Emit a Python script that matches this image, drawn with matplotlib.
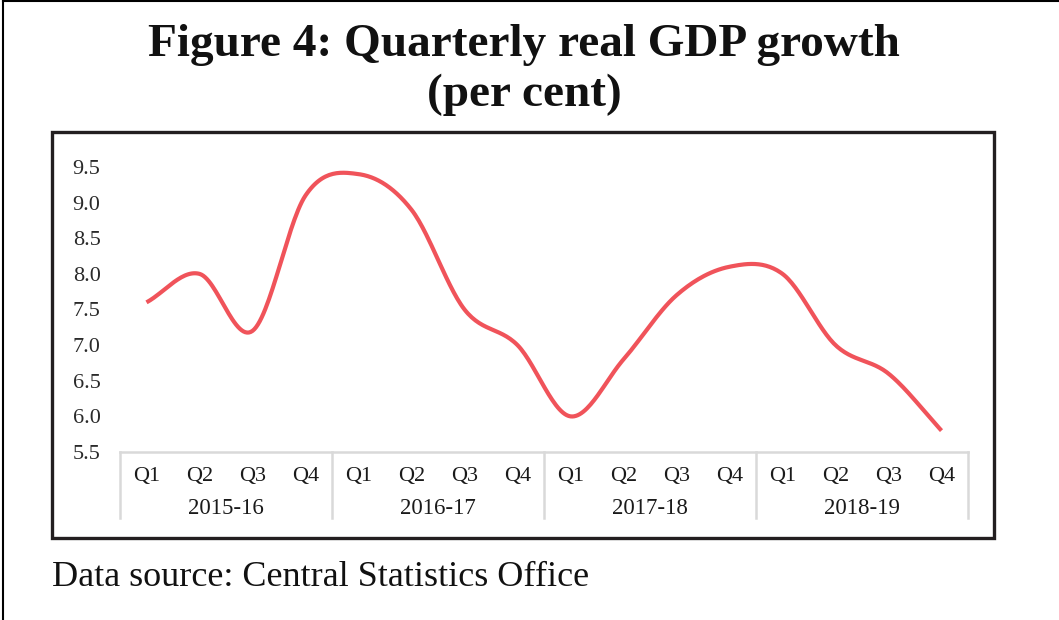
import numpy as np
import matplotlib.pyplot as plt
from matplotlib.lines import Line2D
from matplotlib.patches import Rectangle

# Data
years = ['2015-16', '2016-17', '2017-18', '2018-19']
quarters = ['Q1', 'Q2', 'Q3', 'Q4']
growth = [7.6, 8.0, 7.2, 9.1,
          9.4, 8.9, 7.5, 7.0,
          6.0, 6.8, 7.7, 8.1,
          8.0, 7.0, 6.6, 5.8]
yticks = [5.5, 6.0, 6.5, 7.0, 7.5, 8.0, 8.5, 9.0, 9.5]


def smooth(xs, ys, n=30):
    # Catmull-Rom style smoothing like a spreadsheet "smoothed line"
    xs = np.asarray(xs, float)
    ys = np.asarray(ys, float)
    px = np.concatenate([[2 * xs[0] - xs[1]], xs, [2 * xs[-1] - xs[-2]]])
    py = np.concatenate([[2 * ys[0] - ys[1]], ys, [2 * ys[-1] - ys[-2]]])
    ox, oy = [], []
    t = np.linspace(0, 1, n)
    for i in range(1, len(px) - 2):
        p0, p1, p2, p3 = px[i - 1], px[i], px[i + 1], px[i + 2]
        q0, q1, q2, q3 = py[i - 1], py[i], py[i + 1], py[i + 2]
        c1x, c1y = p1 + (p2 - p0) / 6, q1 + (q2 - q0) / 6
        c2x, c2y = p2 - (p3 - p1) / 6, q2 - (q3 - q1) / 6
        bx = (1 - t) ** 3 * p1 + 3 * (1 - t) ** 2 * t * c1x + 3 * (1 - t) * t ** 2 * c2x + t ** 3 * p2
        by = (1 - t) ** 3 * q1 + 3 * (1 - t) ** 2 * t * c1y + 3 * (1 - t) * t ** 2 * c2y + t ** 3 * q2
        ox.extend(bx)
        oy.extend(by)
    return np.array(ox), np.array(oy)


W, H = 1059, 620
fig = plt.figure(figsize=(W / 100, H / 100), dpi=100)
plt.rcParams['font.family'] = ['Liberation Serif', 'DejaVu Serif']

# outer page frame
fig.add_artist(Line2D([3 / W, 3 / W], [0, 1], color='black', lw=1.5))
fig.add_artist(Line2D([3 / W, 1], [1 - 1 / H, 1 - 1 / H], color='black', lw=1.5))

# chart box
fig.add_artist(Rectangle((52 / W, 1 - 538 / H), (994 - 52) / W, (538 - 132) / H,
                         fill=False, edgecolor='#231f20', lw=2.4))

fig.text(524 / W, 1 - 45 / H, 'Figure 4: Quarterly real GDP growth',
         ha='center', va='center', fontsize=34, fontweight='bold', color='#111111')
fig.text(524 / W, 1 - 95 / H, '(per cent)',
         ha='center', va='center', fontsize=34, fontweight='bold', color='#111111')
fig.text(52 / W, 1 - 577 / H, 'Data source: Central Statistics Office',
         ha='left', va='center', fontsize=26, color='#111111')

ax = fig.add_axes([120 / W, 1 - 452 / H, 848 / W, 285 / H])
x = np.arange(len(growth))
sx, sy = smooth(x, growth)
ax.plot(sx, sy, color='#f0535a', lw=3, solid_capstyle='butt')

ax.set_xlim(-0.5, len(growth) - 0.5)
ax.set_ylim(5.5, 9.5)
ax.set_yticks(yticks)
ax.set_yticklabels([f'{v:.1f}' for v in yticks], fontsize=16, color='#2a2a2a')
ax.tick_params(axis='y', length=0, pad=14)
ax.set_xticks([])
for s in ['top', 'right', 'left']:
    ax.spines[s].set_visible(False)
ax.spines['bottom'].set_color('#d9d9d9')
ax.spines['bottom'].set_linewidth(1.8)

tr = ax.get_xaxis_transform()
for g in range(len(years) + 1):
    ax.add_line(Line2D([g * 4 - 0.5, g * 4 - 0.5], [0, -66 / 285], transform=tr,
                       color='#d9d9d9', lw=1.8, clip_on=False))
for i in range(len(growth)):
    ax.text(i, -25 / 285, quarters[i % 4], transform=tr, ha='center', va='center',
            fontsize=16, color='#1a1a1a')
for g, yr in enumerate(years):
    ax.text(g * 4 + 1.5, -56 / 285, yr, transform=tr, ha='center', va='center',
            fontsize=16.5, color='#1a1a1a')

fig.savefig('out.png', dpi=100)
